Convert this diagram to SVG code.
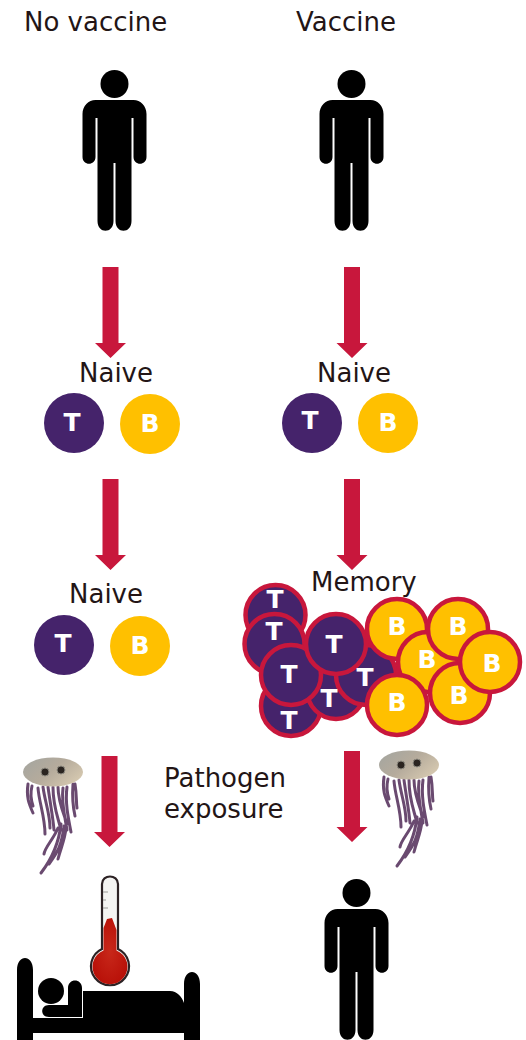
<svg xmlns="http://www.w3.org/2000/svg" xmlns:xlink="http://www.w3.org/1999/xlink" width="526" height="1040" viewBox="0 0 526 1040">
  <style>
    text { font-family: "DejaVu Sans", Verdana, sans-serif; }
    .label { font-size: 26px; fill: #231516; }
    .cell-t { fill: #45236b; }
    .cell-b { fill: #ffc000; }
    .ring { stroke: #c8173c; stroke-width: 4.5; }
    .mark { font-size: 25px; font-weight: bold; fill: #fff; text-anchor: middle; }
    .arrow { fill: #c8173c; }
    .tent { fill: none; stroke: #6a4a70; stroke-width: 3; stroke-linecap: round; }
  </style>
  <defs>
    <linearGradient id="bell" x1="0" y1="0" x2="1" y2="0.6">
      <stop offset="0" stop-color="#a3a5a0"/>
      <stop offset="0.55" stop-color="#b5ab9c"/>
      <stop offset="1" stop-color="#d3c6ae"/>
    </linearGradient>
    <radialGradient id="bulb" cx="0.5" cy="0.5" r="0.55">
      <stop offset="0" stop-color="#c8281a"/>
      <stop offset="1" stop-color="#b81008"/>
    </radialGradient>
    <symbol id="person" overflow="visible">
      <circle cx="0" cy="0" r="14"/>
      <path d="M-19 16 H19 C26 16 32 22 32 30 V73 C32 82 19 82 19 73 V34 H17 V137 C17 150 1 150 1 137 V79 H-1 V137 C-1 150 -17 150 -17 137 V34 H-19 V73 C-19 82 -32 82 -32 73 V30 C-32 22 -26 16 -19 16 Z"/>
    </symbol>
    <path id="down" d="M-8 0 H8 V76 H15.500 L0 91 L-15.500 76 H-8 Z"/>
    <symbol id="jelly" overflow="visible">
      <path class="tent" d="M-25 12 C-27 25 -24 32 -20 41 M-21 14 C-23 22 -22 28 -20 34 M-15 16 C-14 30 -8 45 -8 62 M-10 15 C-8 30 -3 42 -3 56 M-5 15 C-3 30 0 45 1 58 M0 15 C0 35 5 45 8 58 M5 15 C5 30 12 45 14 52 M10 16 C8 30 12 45 14 58 M14 15 C12 30 15 45 18 60 M20 12 C19 25 20 35 22 44 M22 12 C24 24 23 30 24 36 M8 52 C6 70 -2 88 -12 101 M11 54 C9 72 5 80 -4 92 M5 56 C0 68 -8 75 -9 82 M13 56 C12 68 8 75 5 87"/>
      <ellipse cx="0" cy="0" rx="30" ry="14.500" fill="url(#bell)"/>
      <circle cx="-8" cy="0" r="4" fill="#2a2420" stroke="#8d8a80" stroke-width="1"/>
      <circle cx="8" cy="-2" r="4" fill="#2a2420" stroke="#8d8a80" stroke-width="1"/>
    </symbol>
  </defs>

  <g id="title-left"><text class="label" x="24" y="31">No vaccine</text></g>
  <g id="title-right"><text class="label" x="296" y="31">Vaccine</text></g>

  <g id="person-left"><use href="#person" x="114.500" y="84"/></g>
  <g id="person-right"><use href="#person" x="351.500" y="84"/></g>

  <g id="connectors" class="arrow">
    <use href="#down" x="110.500" y="267"/>
    <use href="#down" x="110.500" y="479"/>
    <use href="#down" x="109.500" y="756"/>
    <use href="#down" x="352" y="267"/>
    <use href="#down" x="352" y="479"/>
    <use href="#down" x="352" y="751"/>
  </g>

  <g id="naive-left-1">
    <text class="label" x="79" y="382">Naive</text>
    <circle class="cell-t" cx="74" cy="423" r="30"/><text class="mark" x="72" y="431">T</text>
    <circle class="cell-b" cx="150" cy="424" r="30"/><text class="mark" x="150" y="432">B</text>
  </g>
  <g id="naive-right">
    <text class="label" x="317" y="382">Naive</text>
    <circle class="cell-t" cx="312" cy="423" r="30"/><text class="mark" x="310" y="429">T</text>
    <circle class="cell-b" cx="388" cy="423" r="30"/><text class="mark" x="388" y="431">B</text>
  </g>
  <g id="naive-left-2">
    <text class="label" x="69" y="603">Naive</text>
    <circle class="cell-t" cx="64" cy="645" r="30"/><text class="mark" x="63" y="652">T</text>
    <circle class="cell-b" cx="140" cy="646" r="30"/><text class="mark" x="140" y="654">B</text>
  </g>

  <g id="memory">
    <text class="label" x="311" y="591">Memory</text>
    <g class="cell-t ring">
      <circle cx="275.500" cy="615" r="30"/>
      <circle cx="274.500" cy="644" r="30"/>
      <circle cx="291" cy="706" r="30"/>
      <circle cx="336" cy="690" r="29"/>
      <circle cx="366" cy="675" r="30"/>
      <circle cx="291" cy="675" r="30"/>
      <circle cx="336" cy="644" r="30"/>
    </g>
    <text class="mark" x="275" y="608">T</text>
    <text class="mark" x="274" y="640">T</text>
    <text class="mark" x="289" y="683">T</text>
    <text class="mark" x="334" y="653">T</text>
    <text class="mark" x="365" y="686">T</text>
    <text class="mark" x="329" y="707">T</text>
    <text class="mark" x="289" y="729">T</text>
    <g class="cell-b ring">
      <circle cx="397" cy="629" r="30"/>
      <circle cx="428" cy="662" r="30"/>
      <circle cx="458" cy="629" r="30"/>
      <circle cx="460" cy="693" r="30"/>
      <circle cx="490" cy="662" r="30"/>
      <circle cx="397" cy="705" r="30"/>
    </g>
    <text class="mark" x="397" y="635">B</text>
    <text class="mark" x="458" y="635">B</text>
    <text class="mark" x="427" y="668">B</text>
    <text class="mark" x="459" y="704">B</text>
    <text class="mark" x="492" y="672">B</text>
    <text class="mark" x="397" y="711">B</text>
  </g>

  <g id="pathogen-left"><use href="#jelly" x="53" y="772"/></g>
  <g id="pathogen-right"><use href="#jelly" x="409" y="765"/></g>
  <g id="pathogen-label">
    <text class="label" x="164" y="787">Pathogen</text>
    <text class="label" x="164" y="818">exposure</text>
  </g>

  <g id="sick-bed">
    <path d="M17 1040 V970 C17 954 33 954 33 970 V1018 H83 V991 H170 C177 991 182 997 184 1003 V984 C184 968 200 968 200 984 V1040 H184 V1033 H33 V1040 Z"/>
    <circle cx="51" cy="991" r="13"/>
    <path d="M68 1005 V988 C68 978 82 978 82 988 V1017 H49 C40 1017 40 1005 49 1005 Z"/>
  </g>
  <g id="thermometer">
    <path d="M102 884 C102 874 118 874 118 884 V949 A19 19 0 1 1 102 949 Z" fill="#f4f4f2" stroke="#2c2224" stroke-width="2.200"/>
    <path d="M103.500 928 L107 919 L112 918 L116.500 930 V950.500 A17.500 17.500 0 1 1 103.500 950.500 Z" fill="url(#bulb)"/>
    <path d="M103 892 H108 M103 900 H106 M103 908 H108" stroke="#9a9a96" stroke-width="1" fill="none"/>
  </g>

  <g id="person-recovered"><use href="#person" x="356.500" y="893"/></g>
</svg>
